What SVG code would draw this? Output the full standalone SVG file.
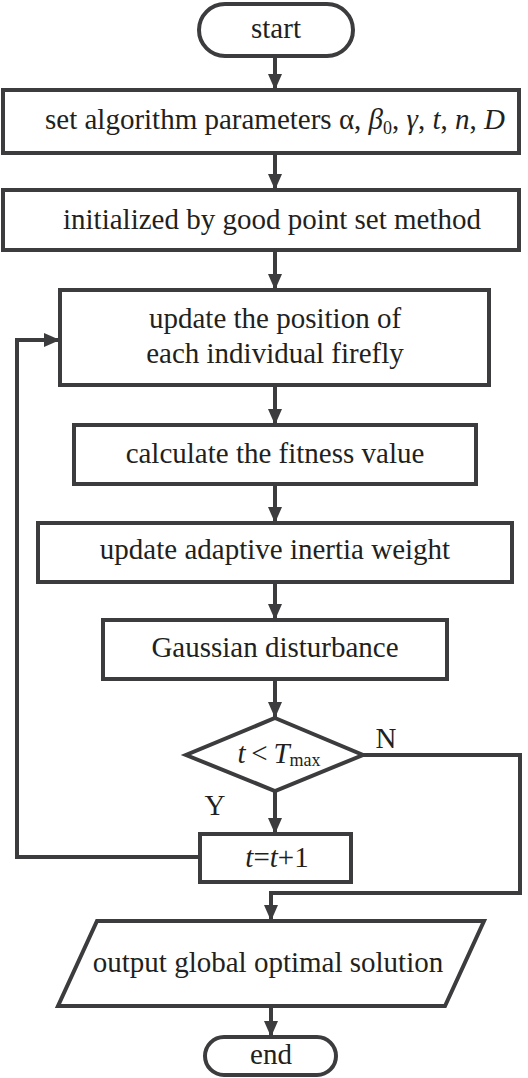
<svg xmlns="http://www.w3.org/2000/svg" width="528" height="1078" viewBox="0 0 528 1078">
<defs>
<style>
.s{fill:#fff;stroke:#3c3c3e;stroke-width:4;stroke-linejoin:miter}
.c{fill:none;stroke:#3c3c3e;stroke-width:4}
text{font-family:"Liberation Serif","Times New Roman",serif;font-size:29px;fill:#231f20;text-anchor:middle}
.i{font-style:italic}
</style>
<marker id="ah" markerUnits="userSpaceOnUse" markerWidth="16" markerHeight="16" viewBox="0 0 16 16" refX="16" refY="8" orient="auto">
<path d="M0,1 L16,8 L0,15 Z" fill="#3c3c3e"/>
</marker>
</defs>
<rect width="528" height="1078" fill="#fff"/>
<g id="connectors">
<line class="c" x1="275" y1="56" x2="275" y2="90" marker-end="url(#ah)"/>
<line class="c" x1="275" y1="153" x2="275" y2="190" marker-end="url(#ah)"/>
<line class="c" x1="275" y1="250" x2="275" y2="290" marker-end="url(#ah)"/>
<line class="c" x1="275" y1="385" x2="275" y2="425" marker-end="url(#ah)"/>
<line class="c" x1="275" y1="484" x2="275" y2="523" marker-end="url(#ah)"/>
<line class="c" x1="275" y1="582" x2="275" y2="620" marker-end="url(#ah)"/>
<line class="c" x1="275" y1="679" x2="275" y2="718" marker-end="url(#ah)"/>
<line class="c" x1="275" y1="791" x2="275" y2="834" marker-end="url(#ah)"/>
<polyline class="c" points="200,857 17,857 17,340 60,340" marker-end="url(#ah)"/>
<polyline class="c" points="363,755 520,755 520,893 271,893 271,921" marker-end="url(#ah)"/>
<line class="c" x1="271" y1="1006" x2="271" y2="1037" marker-end="url(#ah)"/>
<text x="386" y="748" font-size="27">N</text>
<text x="215" y="815" font-size="27">Y</text>
</g>
<g id="start">
<rect class="s" x="199" y="4" width="154" height="52" rx="26"/>
<text x="276" y="38">start</text>
</g>
<g id="set-params">
<rect class="s" x="3" y="90" width="516" height="63"/>
<text x="275" y="129" font-size="28.5">set algorithm parameters α, <tspan class="i">β</tspan><tspan font-size="18" dy="5">0</tspan><tspan dy="-5">, </tspan><tspan class="i">γ</tspan>, <tspan class="i">t</tspan>, <tspan class="i">n</tspan>, <tspan class="i">D</tspan></text>
</g>
<g id="init">
<rect class="s" x="3" y="190" width="516" height="60"/>
<text x="272" y="229">initialized by good point set method</text>
</g>
<g id="update-position">
<rect class="s" x="60" y="290" width="429" height="95"/>
<text x="275" y="328">update the position of</text>
<text x="275" y="363">each individual firefly</text>
</g>
<g id="fitness">
<rect class="s" x="74" y="425" width="402" height="59"/>
<text x="275" y="463">calculate the fitness value</text>
</g>
<g id="inertia">
<rect class="s" x="38" y="523" width="474" height="59"/>
<text x="275" y="559">update adaptive inertia weight</text>
</g>
<g id="gaussian">
<rect class="s" x="103" y="620" width="344" height="59"/>
<text x="275" y="657">Gaussian disturbance</text>
</g>
<g id="decision">
<polygon class="s" points="275,718 363,755 275,791 186,755"/>
<text x="279" y="763" font-size="28"><tspan class="i">t</tspan>&#8201;&lt;&#8201;<tspan class="i">T</tspan><tspan font-size="18" dy="3">max</tspan></text>
</g>
<g id="increment">
<rect class="s" x="200" y="834" width="151" height="48"/>
<text x="277" y="867" font-size="29"><tspan class="i">t</tspan>=<tspan class="i">t</tspan>+1</text>
</g>
<g id="output">
<polygon class="s" points="97,921 484,921 445,1006 58,1006"/>
<text x="268" y="972">output global optimal solution</text>
</g>
<g id="end">
<rect class="s" x="205" y="1037" width="131" height="38" rx="19"/>
<text x="271" y="1064">end</text>
</g>
</svg>
